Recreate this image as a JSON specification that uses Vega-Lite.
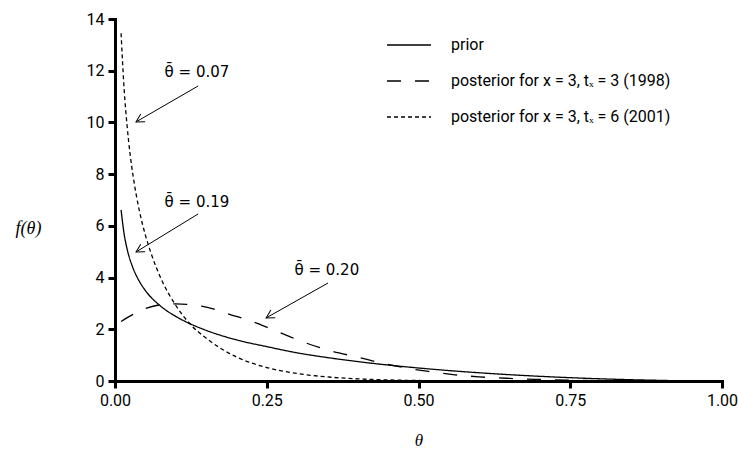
{
  "$schema": "https://vega.github.io/schema/vega-lite/v6.json",
  "width": 607,
  "height": 362,
  "autosize": {"type": "none"},
  "padding": {"left": 115, "top": 19, "right": 16, "bottom": 72},
  "background": "white",
  "config": {
    "view": {"stroke": null}
  },
  "datasets": {
    "curves": [
      {"theta": 0.01, "density": 6.62, "series": "prior"},
      {"theta": 0.015, "density": 5.69, "series": "prior"},
      {"theta": 0.02, "density": 5.10, "series": "prior"},
      {"theta": 0.03, "density": 4.35, "series": "prior"},
      {"theta": 0.04, "density": 3.86, "series": "prior"},
      {"theta": 0.05, "density": 3.50, "series": "prior"},
      {"theta": 0.075, "density": 2.90, "series": "prior"},
      {"theta": 0.1, "density": 2.50, "series": "prior"},
      {"theta": 0.125, "density": 2.20, "series": "prior"},
      {"theta": 0.15, "density": 1.96, "series": "prior"},
      {"theta": 0.2, "density": 1.59, "series": "prior"},
      {"theta": 0.25, "density": 1.33, "series": "prior"},
      {"theta": 0.3, "density": 1.09, "series": "prior"},
      {"theta": 0.35, "density": 0.906, "series": "prior"},
      {"theta": 0.4, "density": 0.75, "series": "prior"},
      {"theta": 0.45, "density": 0.617, "series": "prior"},
      {"theta": 0.5, "density": 0.503, "series": "prior"},
      {"theta": 0.55, "density": 0.403, "series": "prior"},
      {"theta": 0.6, "density": 0.318, "series": "prior"},
      {"theta": 0.65, "density": 0.244, "series": "prior"},
      {"theta": 0.7, "density": 0.181, "series": "prior"},
      {"theta": 0.75, "density": 0.128, "series": "prior"},
      {"theta": 0.8, "density": 0.084, "series": "prior"},
      {"theta": 0.85, "density": 0.050, "series": "prior"},
      {"theta": 0.91, "density": 0.020, "series": "prior"},

      {"theta": 0.01, "density": 2.30, "series": "posterior for x = 3, tₓ = 3 (1998)"},
      {"theta": 0.03, "density": 2.58, "series": "posterior for x = 3, tₓ = 3 (1998)"},
      {"theta": 0.05, "density": 2.80, "series": "posterior for x = 3, tₓ = 3 (1998)"},
      {"theta": 0.07, "density": 2.93, "series": "posterior for x = 3, tₓ = 3 (1998)"},
      {"theta": 0.1, "density": 2.98, "series": "posterior for x = 3, tₓ = 3 (1998)"},
      {"theta": 0.13, "density": 2.94, "series": "posterior for x = 3, tₓ = 3 (1998)"},
      {"theta": 0.16, "density": 2.80, "series": "posterior for x = 3, tₓ = 3 (1998)"},
      {"theta": 0.19, "density": 2.57, "series": "posterior for x = 3, tₓ = 3 (1998)"},
      {"theta": 0.22, "density": 2.35, "series": "posterior for x = 3, tₓ = 3 (1998)"},
      {"theta": 0.25, "density": 2.08, "series": "posterior for x = 3, tₓ = 3 (1998)"},
      {"theta": 0.28, "density": 1.79, "series": "posterior for x = 3, tₓ = 3 (1998)"},
      {"theta": 0.31, "density": 1.51, "series": "posterior for x = 3, tₓ = 3 (1998)"},
      {"theta": 0.35, "density": 1.20, "series": "posterior for x = 3, tₓ = 3 (1998)"},
      {"theta": 0.4, "density": 0.92, "series": "posterior for x = 3, tₓ = 3 (1998)"},
      {"theta": 0.44, "density": 0.69, "series": "posterior for x = 3, tₓ = 3 (1998)"},
      {"theta": 0.48, "density": 0.50, "series": "posterior for x = 3, tₓ = 3 (1998)"},
      {"theta": 0.52, "density": 0.36, "series": "posterior for x = 3, tₓ = 3 (1998)"},
      {"theta": 0.56, "density": 0.24, "series": "posterior for x = 3, tₓ = 3 (1998)"},
      {"theta": 0.6, "density": 0.16, "series": "posterior for x = 3, tₓ = 3 (1998)"},
      {"theta": 0.65, "density": 0.10, "series": "posterior for x = 3, tₓ = 3 (1998)"},
      {"theta": 0.7, "density": 0.06, "series": "posterior for x = 3, tₓ = 3 (1998)"},
      {"theta": 0.75, "density": 0.03, "series": "posterior for x = 3, tₓ = 3 (1998)"},
      {"theta": 0.8, "density": 0.012, "series": "posterior for x = 3, tₓ = 3 (1998)"},
      {"theta": 0.85, "density": 0.004, "series": "posterior for x = 3, tₓ = 3 (1998)"},
      {"theta": 0.91, "density": 0.001, "series": "posterior for x = 3, tₓ = 3 (1998)"},

      {"theta": 0.01, "density": 13.45, "series": "posterior for x = 3, tₓ = 6 (2001)"},
      {"theta": 0.015, "density": 11.3, "series": "posterior for x = 3, tₓ = 6 (2001)"},
      {"theta": 0.02, "density": 9.85, "series": "posterior for x = 3, tₓ = 6 (2001)"},
      {"theta": 0.025, "density": 8.75, "series": "posterior for x = 3, tₓ = 6 (2001)"},
      {"theta": 0.03, "density": 7.9, "series": "posterior for x = 3, tₓ = 6 (2001)"},
      {"theta": 0.04, "density": 6.6, "series": "posterior for x = 3, tₓ = 6 (2001)"},
      {"theta": 0.05, "density": 5.65, "series": "posterior for x = 3, tₓ = 6 (2001)"},
      {"theta": 0.06, "density": 4.9, "series": "posterior for x = 3, tₓ = 6 (2001)"},
      {"theta": 0.075, "density": 4.0, "series": "posterior for x = 3, tₓ = 6 (2001)"},
      {"theta": 0.1, "density": 2.93, "series": "posterior for x = 3, tₓ = 6 (2001)"},
      {"theta": 0.125, "density": 2.17, "series": "posterior for x = 3, tₓ = 6 (2001)"},
      {"theta": 0.15, "density": 1.66, "series": "posterior for x = 3, tₓ = 6 (2001)"},
      {"theta": 0.175, "density": 1.25, "series": "posterior for x = 3, tₓ = 6 (2001)"},
      {"theta": 0.2, "density": 0.93, "series": "posterior for x = 3, tₓ = 6 (2001)"},
      {"theta": 0.25, "density": 0.52, "series": "posterior for x = 3, tₓ = 6 (2001)"},
      {"theta": 0.3, "density": 0.29, "series": "posterior for x = 3, tₓ = 6 (2001)"},
      {"theta": 0.35, "density": 0.158, "series": "posterior for x = 3, tₓ = 6 (2001)"},
      {"theta": 0.4, "density": 0.082, "series": "posterior for x = 3, tₓ = 6 (2001)"},
      {"theta": 0.45, "density": 0.041, "series": "posterior for x = 3, tₓ = 6 (2001)"},
      {"theta": 0.5, "density": 0.019, "series": "posterior for x = 3, tₓ = 6 (2001)"},
      {"theta": 0.6, "density": 0.003, "series": "posterior for x = 3, tₓ = 6 (2001)"},
      {"theta": 0.7, "density": 0.0004, "series": "posterior for x = 3, tₓ = 6 (2001)"},
      {"theta": 0.8, "density": 0.0, "series": "posterior for x = 3, tₓ = 6 (2001)"},
      {"theta": 0.91, "density": 0.0, "series": "posterior for x = 3, tₓ = 6 (2001)"}
    ],
    "arrows": [
      {"label": "θ̄ = 0.07", "labelTheta": 0.135, "labelDensity": 11.95, "tailTheta": 0.137, "tailDensity": 11.41, "tipTheta": 0.0346, "tipDensity": 10.02},
      {"label": "θ̄ = 0.19", "labelTheta": 0.135, "labelDensity": 6.92, "tailTheta": 0.137, "tailDensity": 6.46, "tipTheta": 0.0346, "tipDensity": 4.99},
      {"label": "θ̄ = 0.20", "labelTheta": 0.349, "labelDensity": 4.29, "tailTheta": 0.351, "tailDensity": 3.79, "tipTheta": 0.249, "tipDensity": 2.44}
    ]
  },
  "layer": [
    {
      "data": {"name": "curves"},
      "mark": {"type": "line", "color": "black", "strokeWidth": 1.3, "interpolate": "monotone"},
      "encoding": {
        "x": {"field": "theta", "type": "quantitative",
              "scale": {"domain": [0, 1], "nice": false, "zero": false},
              "axis": {"values": [0, 0.25, 0.5, 0.75, 1], "format": ".2f", "labelFlush": false,
                       "domainColor": "black", "domainWidth": 3, "domainCap": "square",
                       "tickColor": "black", "tickWidth": 3, "tickSize": 7,
                       "labelColor": "black", "labelFont": "Roboto", "labelFontSize": 16, "labelPadding": 4, "grid": false,
                       "title": "θ", "titleY": 59, "titleBaseline": "middle",
                       "titleFont": "Liberation Serif", "titleFontStyle": "italic", "titleFontWeight": "normal", "titleFontSize": 17, "titleColor": "black"}},
        "y": {"field": "density", "type": "quantitative",
              "scale": {"domain": [0, 14], "nice": false},
              "axis": {"values": [0, 2, 4, 6, 8, 10, 12, 14], "labelFlush": false,
                       "domainColor": "black", "domainWidth": 3, "domainCap": "square",
                       "tickColor": "black", "tickWidth": 3, "tickSize": 7,
                       "labelColor": "black", "labelFont": "Roboto", "labelFontSize": 16, "labelPadding": 4, "grid": false,
                       "title": "f(θ)", "titleAngle": 0, "titleAlign": "center", "titleBaseline": "middle", "titleX": -87, "titleY": 209,
                       "titleFont": "Liberation Serif", "titleFontStyle": "italic", "titleFontWeight": "normal", "titleFontSize": 18, "titleColor": "black"}},
        "strokeDash": {"field": "series", "type": "nominal",
          "scale": {"domain": ["prior", "posterior for x = 3, tₓ = 3 (1998)", "posterior for x = 3, tₓ = 6 (2001)"],
                    "range": [[1, 0], [14, 14], [4, 3]]},
          "legend": {"title": null, "orient": "none", "legendX": 271, "legendY": 3,
                     "symbolType": "stroke", "symbolSize": 1936, "symbolStrokeWidth": 1.5, "symbolStrokeColor": "black",
                     "labelFont": "Roboto", "labelFontSize": 16, "labelColor": "black", "labelLimit": 400,
                     "rowPadding": 5, "labelOffset": 19}}
      }
    },
    {
      "data": {"name": "arrows"},
      "mark": {"type": "rule", "color": "black", "strokeWidth": 1},
      "encoding": {
        "x": {"field": "tailTheta", "type": "quantitative"},
        "y": {"field": "tailDensity", "type": "quantitative"},
        "x2": {"field": "tipTheta"},
        "y2": {"field": "tipDensity"}
      }
    },
    {
      "data": {"name": "arrows"},
      "mark": {"type": "point", "shape": "M -1 -0.55 L 0 0 L -1 0.55", "filled": false, "stroke": "black", "strokeWidth": 1, "size": 256, "angle": 150, "opacity": 1},
      "encoding": {
        "x": {"field": "tipTheta", "type": "quantitative"},
        "y": {"field": "tipDensity", "type": "quantitative"}
      }
    },
    {
      "data": {"name": "arrows"},
      "mark": {"type": "text", "font": "DejaVu Sans", "fontSize": 15, "color": "black", "align": "center", "baseline": "middle"},
      "encoding": {
        "x": {"field": "labelTheta", "type": "quantitative"},
        "y": {"field": "labelDensity", "type": "quantitative"},
        "text": {"field": "label"}
      }
    }
  ]
}
